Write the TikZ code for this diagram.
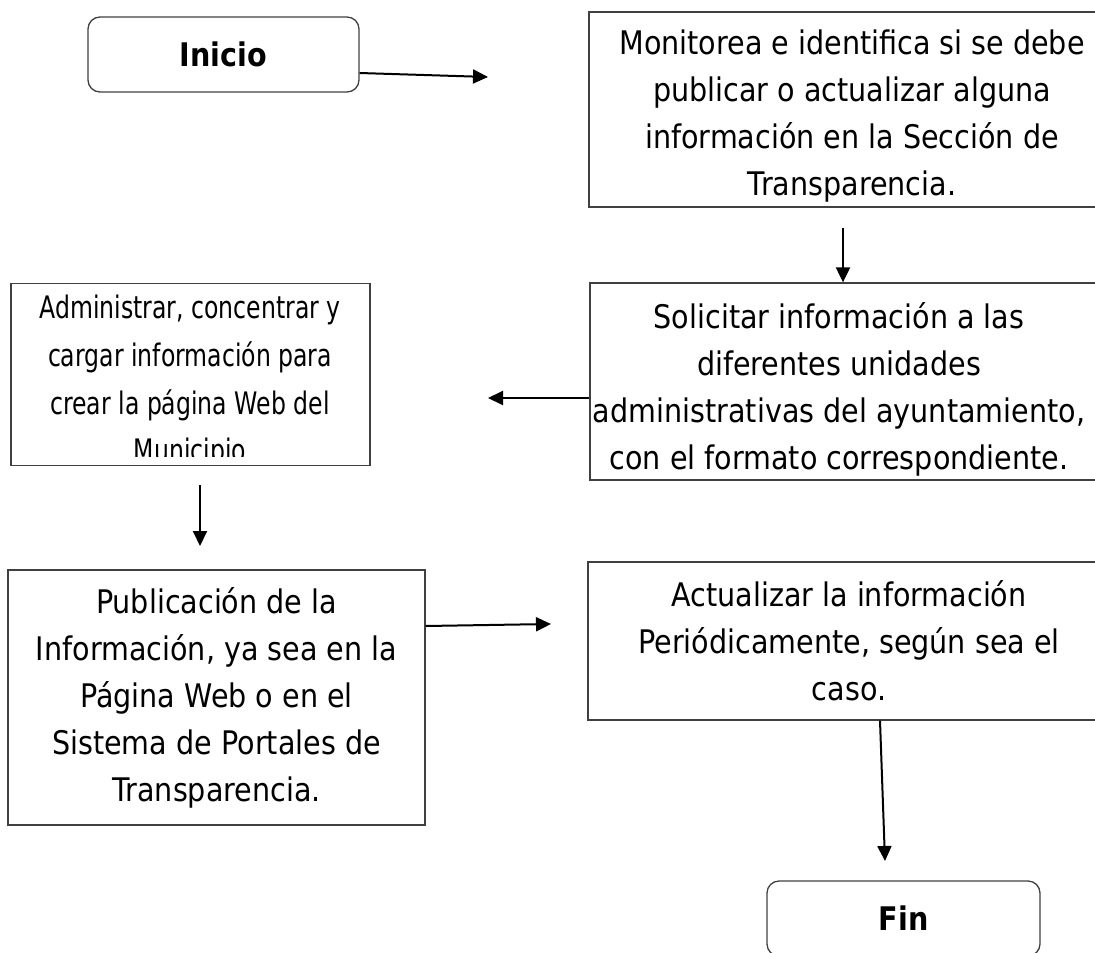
\documentclass[tikz,border=0pt]{standalone}
\usepackage{fontspec}
\setmainfont{DejaVu Sans}[FakeStretch=0.88]
\newfontfamily\estrecha{DejaVu Sans}[FakeStretch=0.76]
\usetikzlibrary{arrows.meta,positioning,calc}
\tikzset{
  proc/.style={draw=black!75,line width=1.3pt,align=center,inner sep=0pt},
  term/.style={proc,rounded corners=12pt},
  txt/.style={align=center,inner sep=0pt},
  flecha/.style={-{Triangle[length=15pt,width=14pt]},line width=2pt},
}
\newcommand{\fuente}{\fontsize{32.5}{47}\selectfont}

\begin{document}
\begin{tikzpicture}[x=1pt,y=-1pt,font=\fuente]
  %% Hoja
  \useasboundingbox (0,0) rectangle (1095,953);
  \clip (0,0) rectangle (1095,953);

  %% Inicio y primer paso
  \node[term,minimum width=271pt,minimum height=75pt] (ini) at (223.5,54.5) {\textbf{Inicio}};
  \node[proc,minimum width=520pt,minimum height=195pt] (mon) at (849,109.5) {};
  \node[txt] (montxt) at (852,116)
        {Monitorea e identifica si se debe\\publicar o actualizar alguna\\información en la Sección de\\Transparencia.};

  %% Solicitud a las unidades
  \node[proc,minimum width=520pt,minimum height=197pt] (sol) at (850,381.5) {};
  \node[txt] (soltxt) at (839,389)
        {Solicitar información a las\\diferentes unidades\\administrativas del ayuntamiento,\\con el formato correspondiente.};

  %% Carga de la informacion (texto cortado)
  \node[proc,minimum width=359pt,minimum height=182pt] (adm) at (190.5,374.5) {};
  \begin{scope}
    \clip (adm.north west) rectangle (adm.east |- 0,456);
    \node[txt,anchor=north,font={\estrecha\fontsize{31}{47.7}\selectfont}] (admtxt) at (190,295)
          {Administrar, concentrar y\\cargar información para\\crear la página Web del\\Municipio};
  \end{scope}

  %% Publicacion, actualizacion y fin
  \node[proc,minimum width=417pt,minimum height=255pt] (pub) at (216.5,697.5)
        {Publicación de la\\Información, ya sea en la\\Página Web o en el\\Sistema de Portales de\\Transparencia.};
  \node[proc,minimum width=522pt,minimum height=158pt] (act) at (849,641)
        {Actualizar la información\\Periódicamente, según sea el\\caso.};
  \node[term,minimum width=273pt,minimum height=75pt] (fin) at (903.5,918.5) {\textbf{Fin}};

  %% Flechas
  \coordinate (ini-out) at (ini.east |- 0,73);
  \coordinate (mon-in) at (488,77);
  \draw[flecha] (ini-out) -- (mon-in);
  \coordinate (mon-out) at (843,228);
  \draw[flecha] (mon-out) -- (mon-out |- sol.north);
  \coordinate (sol-out) at (sol.west |- 0,398);
  \coordinate (adm-in) at (488,398);
  \draw[flecha] (sol-out) -- (adm-in);
  \coordinate (adm-out) at (200,485);
  \coordinate (pub-in) at (200,546);
  \draw[flecha] (adm-out) -- (pub-in);
  \coordinate (pub-out) at (pub.east |- 0,626);
  \coordinate (act-in) at (551,624);
  \draw[flecha] (pub-out) -- (act-in);
  \coordinate (act-out) at (880,0 |- act.south);
  \coordinate (fin-in) at (885,861);
  \draw[flecha] (act-out) -- (fin-in);
\end{tikzpicture}
\end{document}
